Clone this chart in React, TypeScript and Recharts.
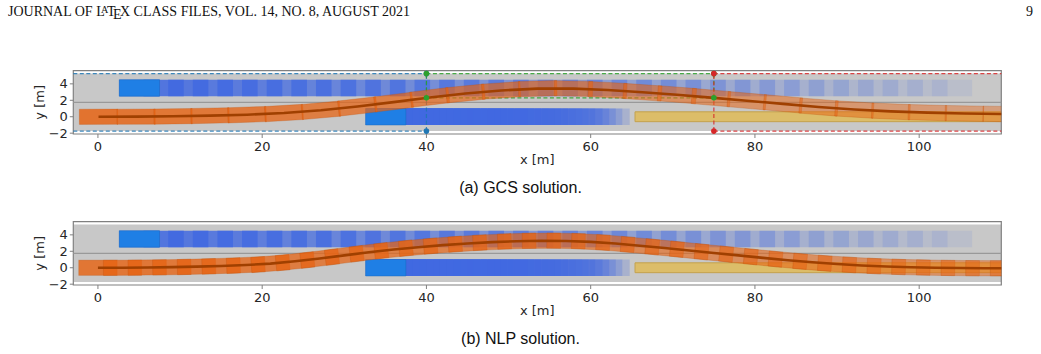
import React from 'react';
import {
  ComposedChart,
  XAxis,
  YAxis,
  Scatter,
  ReferenceArea,
  ReferenceLine,
  ReferenceDot,
} from 'recharts';

// axes
const X_MIN = -3;
const X_MAX = 110;
const Y_MIN = -2.1;
const Y_MAX = 5.6;
const xTicks = [0, 20, 40, 60, 80, 100];
const yTicks = [-2, 0, 2, 4];

// road: lane borders [m]
const roadBottom = -1.75;
const laneDivider = 1.75;
const roadTop = 5.25;

// other vehicles, box centre x per time step
const topCarX = [5.05, 8, 11, 14, 17, 20, 23, 26, 29, 32, 35, 38, 41, 44, 47, 50, 53, 56, 59, 62, 65, 68, 71, 74, 77, 80, 83, 86, 89, 92, 95, 98, 101, 104];
const topCarY = 3.5;
const bottomCarX = [35.05, 35.9, 36.7, 37.5, 38.3, 39.2, 40.0, 40.8, 41.6, 42.5, 43.3, 44.1, 44.9, 45.8, 46.6, 47.4, 48.2, 49.1, 49.9, 50.7, 51.5, 52.4, 53.2, 54.0, 54.8, 55.7, 56.5, 57.3, 58.1, 59.0, 59.8, 60.6, 61.4, 62.3];
const bottomCarY = 0;
const carLen = 4.9;
const carWid = 2.0;

// parked vehicle / obstacle
const obstacleX = [65.4, 112];
const obstacleY = [-0.6, 0.6];

// ego vehicle (GCS)
const gcsX = [0.07, 4.65, 9.15, 13.65, 18.15, 22.65, 27.15, 31.6, 36.0, 40.4, 44.75, 49.1, 53.55, 57.9, 62.05, 66.3, 70.5, 74.65, 79.0, 83.4, 87.75, 92.1, 96.55, 101.0, 105.5, 110.1];
const gcsY = [0, 0.01, 0.05, 0.13, 0.25, 0.45, 0.78, 1.25, 1.78, 2.35, 2.83, 3.2, 3.42, 3.42, 3.25, 2.98, 2.68, 2.33, 1.95, 1.57, 1.18, 0.88, 0.65, 0.5, 0.4, 0.33];

// ego vehicle (NLP)
const nlpX = [0, 3, 6, 9, 12, 15, 18, 21, 24, 27, 30, 33, 36, 39, 42, 45, 48, 51, 54, 57, 60, 63, 66, 69, 72, 75, 78, 81, 84, 87, 90, 93, 96, 99, 102, 105, 108, 111];
const nlpY = [0, 0, 0.03, 0.07, 0.13, 0.22, 0.33, 0.5, 0.78, 1.12, 1.5, 1.88, 2.22, 2.5, 2.75, 2.95, 3.12, 3.23, 3.28, 3.26, 3.15, 2.95, 2.68, 2.4, 2.1, 1.8, 1.5, 1.2, 0.92, 0.66, 0.45, 0.28, 0.15, 0.06, 0, -0.04, -0.06, -0.07];
const egoLen = 4.67;
const egoWid = 1.85;

// GCS convex regions
const regionColors = ['#1f77b4', '#2ca02c', '#d62728'];
const regionX = [[-3, 40], [40, 75], [75, 110]];
const regionY = [[-1.75, 5.25], [2.3, 5.25], [-1.75, 5.25]];

// layout
const CHART_W = 1041;
const CHART_H = 130;
const PLOT_TOP = 20.7;
const PLOT_LEFT = 73.3;
const PLOT_W = 928;
const PLOT_H = 63.3;
const YAXIS_W = 45;
const XAXIS_H = 40;
const PX_PER_M = PLOT_W / (X_MAX - X_MIN);
const PY_PER_M = PLOT_H / (Y_MAX - Y_MIN);

const EGO = '#e66414';
const TICK_FONT = { fontFamily: 'DejaVu Sans', fontSize: 13, fill: '#262626' };

const fmtY = (v: number) => (v < 0 ? '\u2212' + Math.abs(v) : String(v));

function egoTable(xs: number[], ys: number[], a0: number, a1: number) {
  return xs.map((x, i) => {
    const j0 = Math.max(0, i - 1);
    const j1 = Math.min(xs.length - 1, i + 1);
    const heading = Math.atan2((ys[j1] - ys[j0]) * PY_PER_M, (xs[j1] - xs[j0]) * PX_PER_M);
    return { x, y: ys[i], heading, alpha: a0 + ((a1 - a0) * i) / (xs.length - 1) };
  });
}

const EgoBox = (props: any) => {
  const { cx, cy, payload } = props;
  if (cx == null || cy == null) return null;
  const w = egoLen * PX_PER_M;
  const h = egoWid * PY_PER_M;
  const deg = (-payload.heading * 180) / Math.PI;
  return (
    <rect
      x={cx - w / 2}
      y={cy - h / 2}
      width={w}
      height={h}
      transform={`rotate(${deg} ${cx} ${cy})`}
      fill={EGO}
      fillOpacity={payload.alpha}
      stroke="#c0500a"
      strokeOpacity={0.35}
      strokeWidth={0.8}
    />
  );
};

const NoDot = () => <g />;

const XLabel = (props: any) => {
  const vb = props.viewBox;
  return (
    <text x={vb.x + vb.width / 2} y={vb.y + 25} textAnchor="middle" dominantBaseline="central" {...TICK_FONT}>
      x [m]
    </text>
  );
};

const YLabel = (props: any) => {
  const vb = props.viewBox;
  const x = vb.x + 11.7;
  const y = vb.y + vb.height / 2;
  return (
    <text x={x} y={y} textAnchor="middle" dominantBaseline="central" transform={`rotate(-90 ${x} ${y})`} {...TICK_FONT}>
      y [m]
    </text>
  );
};

function Panel({ xs, ys, a0, a1, regions }: { xs: number[]; ys: number[]; a0: number; a1: number; regions: boolean }) {
  const ego = egoTable(xs, ys, a0, a1);
  const path = xs.map((x, i) => ({ x, y: ys[i] }));
  const n = topCarX.length;
  const topAlpha = (i: number) => 0.9 - (0.8 * i) / (n - 1);
  const bottomAlpha = (i: number) => 0.95 - (0.72 * i) / (n - 1);

  return (
    <ComposedChart
      width={CHART_W}
      height={CHART_H}
      margin={{
        top: PLOT_TOP,
        left: PLOT_LEFT - YAXIS_W,
        right: CHART_W - PLOT_LEFT - PLOT_W,
        bottom: CHART_H - PLOT_TOP - PLOT_H - XAXIS_H,
      }}
    >
      <XAxis
        type="number"
        dataKey="x"
        domain={[X_MIN, X_MAX]}
        ticks={xTicks}
        interval={0}
        allowDataOverflow
        height={XAXIS_H}
        axisLine={false}
        tickSize={4}
        tickMargin={4}
        tickLine={{ stroke: '#808080' }}
        tick={TICK_FONT}
        label={(p: any) => <XLabel {...p} />}
      />
      <YAxis
        type="number"
        dataKey="y"
        domain={[Y_MIN, Y_MAX]}
        ticks={yTicks}
        interval={0}
        allowDataOverflow
        width={YAXIS_W}
        axisLine={false}
        tickSize={3.5}
        tickMargin={2}
        tickLine={{ stroke: '#808080' }}
        tick={TICK_FONT}
        tickFormatter={fmtY}
        label={(p: any) => <YLabel {...p} />}
      />

      {/* road */}
      <ReferenceArea x1={X_MIN} x2={X_MAX} y1={roadBottom} y2={roadTop} fill="#c8c8c8" fillOpacity={1} ifOverflow="hidden" />
      <ReferenceLine y={laneDivider} stroke="#999999" strokeWidth={1.2} />

      {/* other vehicles, fading with time */}
      {topCarX.map((c, i) => (
        <ReferenceArea key={`t${i}`} x1={c - carLen / 2} x2={c + carLen / 2} y1={topCarY - carWid / 2} y2={topCarY + carWid / 2} fill="#4169e1" fillOpacity={topAlpha(i)} ifOverflow="hidden" />
      ))}
      {bottomCarX.map((c, i) => (
        <ReferenceArea key={`b${i}`} x1={c - carLen / 2} x2={c + carLen / 2} y1={bottomCarY - carWid / 2} y2={bottomCarY + carWid / 2} fill="#4169e1" fillOpacity={bottomAlpha(i)} ifOverflow="hidden" />
      ))}
      <ReferenceArea x1={topCarX[0] - carLen / 2} x2={topCarX[0] + carLen / 2} y1={topCarY - carWid / 2} y2={topCarY + carWid / 2} fill="#1f7fe5" fillOpacity={1} stroke="#1a6cc4" strokeOpacity={0.5} ifOverflow="hidden" />
      <ReferenceArea x1={bottomCarX[0] - carLen / 2} x2={bottomCarX[0] + carLen / 2} y1={bottomCarY - carWid / 2} y2={bottomCarY + carWid / 2} fill="#1f7fe5" fillOpacity={1} stroke="#1a6cc4" strokeOpacity={0.5} ifOverflow="hidden" />
      <ReferenceArea x1={obstacleX[0]} x2={obstacleX[1]} y1={obstacleY[0]} y2={obstacleY[1]} fill="#dcbd69" fillOpacity={1} stroke="#c4a24e" strokeWidth={1} ifOverflow="hidden" />

      {/* ego vehicle and its path (path drawn as a second scatter so it sits on top) */}
      <Scatter data={ego} dataKey="y" shape={EgoBox} isAnimationActive={false} />
      <Scatter
        data={path}
        dataKey="y"
        shape={NoDot}
        line={{ stroke: '#a04000', strokeWidth: 2.6, strokeLinejoin: 'round', fill: 'none' }}
        lineType="joint"
        isAnimationActive={false}
      />

      {/* convex sets of the GCS */}
      {regions &&
        regionX.map(([x1, x2], k) => {
          const [y1, y2] = regionY[k];
          const col = regionColors[k];
          const dash = { stroke: col, strokeDasharray: '4 2.5', strokeWidth: 1.2, strokeOpacity: 0.85, ifOverflow: 'visible' as const };
          return (
            <React.Fragment key={`r${k}`}>
              <ReferenceLine segment={[{ x: x1, y: y2 }, { x: x2, y: y2 }]} {...dash} />
              <ReferenceLine segment={[{ x: x1, y: y1 }, { x: x2, y: y1 }]} {...dash} />
              {x1 > X_MIN && <ReferenceLine segment={[{ x: x1, y: y1 }, { x: x1, y: y2 }]} {...dash} />}
              {x2 < X_MAX && <ReferenceLine segment={[{ x: x2, y: y1 }, { x: x2, y: y2 }]} {...dash} />}
              {x1 > X_MIN && <ReferenceDot x={x1} y={y1} r={2.8} fill={col} stroke="none" />}
              {x1 > X_MIN && <ReferenceDot x={x1} y={y2} r={2.8} fill={col} stroke="none" />}
              {x2 < X_MAX && <ReferenceDot x={x2} y={y1} r={2.8} fill={col} stroke="none" />}
              {x2 < X_MAX && <ReferenceDot x={x2} y={y2} r={2.8} fill={col} stroke="none" />}
            </React.Fragment>
          );
        })}

      {/* frame */}
      <ReferenceArea x1={X_MIN} x2={X_MAX} y1={Y_MIN} y2={Y_MAX} fill="none" stroke="#808080" strokeWidth={1.2} ifOverflow="visible" />
    </ComposedChart>
  );
}

const caption: React.CSSProperties = {
  position: 'absolute',
  left: 0,
  width: CHART_W,
  textAlign: 'center',
  fontFamily: '"Liberation Sans", Arial, sans-serif',
  fontSize: 16,
  color: '#111',
  lineHeight: '20px',
};

const header: React.CSSProperties = {
  position: 'absolute',
  top: 2,
  fontFamily: '"Liberation Serif", serif',
  fontSize: 14,
  lineHeight: '20px',
  color: '#111',
  whiteSpace: 'nowrap',
};

export default function App() {
  return (
    <div style={{ position: 'absolute', left: 0, top: 0, width: 1041, height: 354, background: '#fff' }}>
      <div style={{ ...header, left: 8 }}>
        JOURNAL OF L
        <span style={{ fontSize: '0.72em', position: 'relative', top: '-0.3em', marginLeft: '-0.36em', marginRight: '-0.15em' }}>A</span>
        T
        <span style={{ position: 'relative', top: '0.22em', marginLeft: '-0.17em', marginRight: '-0.12em' }}>E</span>
        X CLASS FILES, VOL. 14, NO. 8, AUGUST 2021
      </div>
      <div style={{ ...header, right: 8 }}>9</div>

      <div style={{ position: 'absolute', left: 0, top: 50 }}>
        <Panel xs={gcsX} ys={gcsY} a0={0.85} a1={0.42} regions />
      </div>
      <div style={{ ...caption, top: 178 }}>(a) GCS solution.</div>

      <div style={{ position: 'absolute', left: 0, top: 201 }}>
        <Panel xs={nlpX} ys={nlpY} a0={0.82} a1={0.5} regions={false} />
      </div>
      <div style={{ ...caption, top: 329 }}>(b) NLP solution.</div>
    </div>
  );
}
